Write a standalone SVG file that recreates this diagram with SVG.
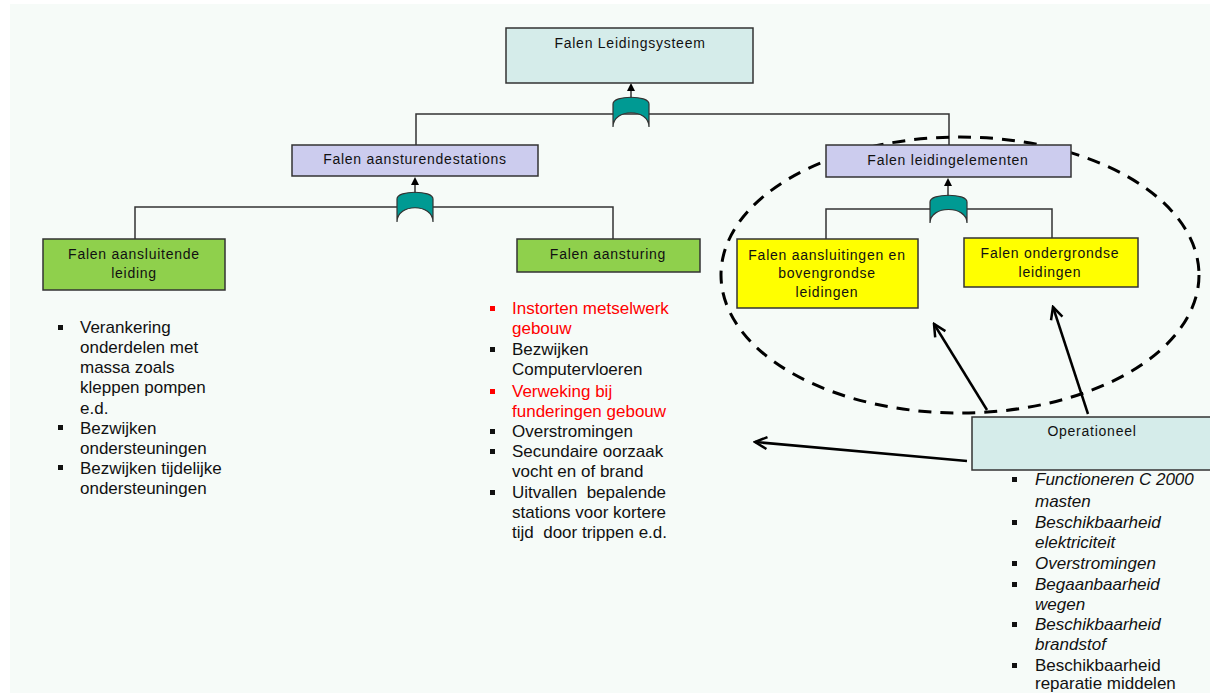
<svg xmlns="http://www.w3.org/2000/svg" width="1210" height="693" viewBox="0 0 1210 693">
<style>
.bx{stroke:#333;stroke-width:1.5}
.lbl{font-family:"Liberation Sans",Arial,sans-serif;font-size:14px;letter-spacing:0.75px;fill:#111;text-anchor:middle}
.li{font-family:"Liberation Sans",Arial,sans-serif;font-size:17px;fill:#111}
.red{fill:#ff0000}
.it{font-style:italic}
.con{stroke:#333;stroke-width:1.5;fill:none}
.gate{fill:#009a93;stroke:#333;stroke-width:1.2}
.arr{stroke:#000;stroke-width:2.5;fill:none}
</style>
<defs>
<marker id="open" viewBox="0 0 16 16" refX="14" refY="8" markerWidth="16" markerHeight="16" markerUnits="userSpaceOnUse" orient="auto">
<path d="M2,2 L14,8 L2,14" fill="none" stroke="#000" stroke-width="2.5"/>
</marker>
</defs>
<rect x="0" y="0" width="1210" height="693" fill="#ffffff"/>
<rect x="10" y="4" width="1200" height="689" fill="#f6fbf8"/>

<g id="connectors">
<polyline class="con" points="416,145 416,114 949,114 949,145"/>
<polyline class="con" points="135,239 135,207 613,207 613,239"/>
<polyline class="con" points="826,239 826,209 1052,209 1052,238"/>
<path class="gate" d="M613,127 L613,104 C613,95 649,95 649,104 L649,127 C649,108 613,108 613,127 Z"/>
<path class="gate" d="M397,222 L397,199 C397,190 433,190 433,199 L433,222 C433,203 397,203 397,222 Z"/>
<path class="gate" d="M930,223 L930,202 C930,193 967,193 967,202 L967,223 C967,205 930,205 930,223 Z"/>
<line class="con" x1="631" y1="98" x2="631" y2="90"/>
<path d="M627,91 L631,83 L635,91 Z" fill="#000"/>
<line class="con" x1="415" y1="193" x2="415" y2="184"/>
<path d="M411,185 L415,177 L419,185 Z" fill="#000"/>
<line class="con" x1="948" y1="196" x2="948" y2="186"/>
<path d="M944,186 L948,178 L952,186 Z" fill="#000"/>
<ellipse cx="960" cy="275" rx="239" ry="138" fill="none" stroke="#000" stroke-width="3" stroke-dasharray="13 9"/>
<line class="arr" x1="987" y1="410" x2="934" y2="324" marker-end="url(#open)"/>
<line class="arr" x1="1088" y1="414" x2="1053" y2="307" marker-end="url(#open)"/>
<line class="arr" x1="967" y1="461" x2="755" y2="442" marker-end="url(#open)"/>
</g>

<g id="n-top">
<rect class="bx" x="506" y="28" width="247" height="55" fill="#d5ecea"/>
<text class="lbl" x="630" y="48">Falen Leidingsysteem</text>
</g>
<g id="n-stations">
<rect class="bx" x="292" y="145" width="246" height="31" fill="#ccccee"/>
<text class="lbl" x="415" y="164">Falen aansturendestations</text>
</g>
<g id="n-elementen">
<rect class="bx" x="826" y="145" width="245" height="32" fill="#ccccee"/>
<text class="lbl" x="948" y="165">Falen leidingelementen</text>
</g>
<g id="n-aansluitende">
<rect class="bx" x="43" y="239" width="182" height="51" fill="#8fd04c"/>
<text class="lbl" x="134" y="259">Falen aansluitende</text>
<text class="lbl" x="134" y="278">leiding</text>
</g>
<g id="n-aansturing">
<rect class="bx" x="517" y="239" width="183" height="33" fill="#8fd04c"/>
<text class="lbl" x="608" y="259">Falen aansturing</text>
</g>
<g id="n-bovengronds">
<rect class="bx" x="737" y="239" width="181" height="69" fill="#ffff00"/>
<text class="lbl" x="827" y="260">Falen aansluitingen en</text>
<text class="lbl" x="827" y="278">bovengrondse</text>
<text class="lbl" x="827" y="297">leidingen</text>
</g>
<g id="n-ondergronds">
<rect class="bx" x="964" y="238" width="174" height="49" fill="#ffff00"/>
<text class="lbl" x="1050" y="258">Falen ondergrondse</text>
<text class="lbl" x="1050" y="277">leidingen</text>
</g>
<g id="n-operationeel">
<rect class="bx" x="972" y="417" width="245" height="53" fill="#d5ecea"/>
<text class="lbl" x="1092" y="436">Operationeel</text>
</g>

<g id="list-left">
<rect x="58" y="325" width="5" height="5" fill="#111"/>
<rect x="58" y="425" width="5" height="5" fill="#111"/>
<rect x="58" y="465" width="5" height="5" fill="#111"/>
<text class="li" x="80" y="333">Verankering</text>
<text class="li" x="80" y="353">onderdelen met</text>
<text class="li" x="80" y="373">massa zoals</text>
<text class="li" x="80" y="393">kleppen pompen</text>
<text class="li" x="80" y="414">e.d.</text>
<text class="li" x="80" y="434">Bezwijken</text>
<text class="li" x="80" y="454">ondersteuningen</text>
<text class="li" x="80" y="474">Bezwijken tijdelijke</text>
<text class="li" x="80" y="494">ondersteuningen</text>
</g>

<g id="list-middle">
<rect x="490" y="306" width="5" height="5" fill="#ff0000"/>
<rect x="490" y="347" width="5" height="5" fill="#111"/>
<rect x="490" y="389" width="5" height="5" fill="#ff0000"/>
<rect x="490" y="429" width="5" height="5" fill="#111"/>
<rect x="490" y="449" width="5" height="5" fill="#111"/>
<rect x="490" y="490" width="5" height="5" fill="#111"/>
<text class="li red" x="512" y="314">Instorten metselwerk</text>
<text class="li red" x="512" y="334">gebouw</text>
<text class="li" x="512" y="355">Bezwijken</text>
<text class="li" x="512" y="375">Computervloeren</text>
<text class="li red" x="512" y="397">Verweking bij</text>
<text class="li red" x="512" y="417">funderingen gebouw</text>
<text class="li" x="512" y="437">Overstromingen</text>
<text class="li" x="512" y="457">Secundaire oorzaak</text>
<text class="li" x="512" y="477">vocht en of brand</text>
<text class="li" x="512" y="498" xml:space="preserve">Uitvallen  bepalende</text>
<text class="li" x="512" y="518">stations voor kortere</text>
<text class="li" x="512" y="538" xml:space="preserve">tijd  door trippen e.d.</text>
</g>

<g id="list-right">
<rect x="1012" y="477" width="5" height="5" fill="#111"/>
<rect x="1012" y="520" width="5" height="5" fill="#111"/>
<rect x="1012" y="561" width="5" height="5" fill="#111"/>
<rect x="1012" y="582" width="5" height="5" fill="#111"/>
<rect x="1012" y="622" width="5" height="5" fill="#111"/>
<rect x="1012" y="663" width="5" height="5" fill="#111"/>
<text class="li it" x="1035" y="485">Functioneren C 2000</text>
<text class="li it" x="1035" y="507">masten</text>
<text class="li it" x="1035" y="528">Beschikbaarheid</text>
<text class="li it" x="1035" y="548">elektriciteit</text>
<text class="li it" x="1035" y="569">Overstromingen</text>
<text class="li it" x="1035" y="590">Begaanbaarheid</text>
<text class="li it" x="1035" y="610">wegen</text>
<text class="li it" x="1035" y="630">Beschikbaarheid</text>
<text class="li it" x="1035" y="650">brandstof</text>
<text class="li" x="1035" y="671">Beschikbaarheid</text>
<text class="li" x="1035" y="689">reparatie middelen</text>
</g>
</svg>
